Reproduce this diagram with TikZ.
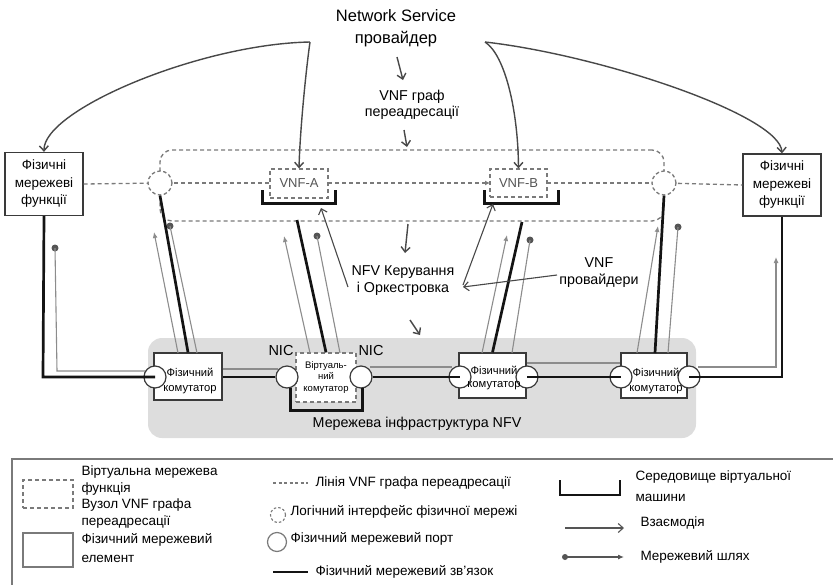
\documentclass[tikz,border=0pt]{standalone}
\usepackage{fontspec}
\setmainfont{Liberation Sans}
\usetikzlibrary{arrows.meta}

\definecolor{dashgrey}{HTML}{7A7A7A}
\definecolor{pathgrey}{HTML}{8C8C8C}
\definecolor{infrafill}{HTML}{DDDDDD}
\definecolor{edgegrey}{HTML}{3A3A3A}
\definecolor{ctrlgrey}{HTML}{484848}
\definecolor{textgrey}{HTML}{555555}

\tikzset{
  physbox/.style={draw=edgegrey, line width=1.3pt, fill=white, align=center, inner sep=0pt},
  vnfbox/.style={draw=dashgrey, dash pattern=on 4pt off 3pt, line width=1.3pt, fill=white,
                 inner sep=0pt, text=textgrey, font=\fontsize{13}{15}\selectfont},
  lif/.style={circle, draw=dashgrey, dash pattern=on 3.5pt off 2.5pt, line width=1.3pt,
              fill=white, minimum size=24pt, inner sep=0pt},
  pport/.style={circle, draw=edgegrey, line width=1.2pt, fill=white, minimum size=22pt, inner sep=0pt},
  fglink/.style={draw=dashgrey, line width=1.3pt, dash pattern=on 4pt off 3pt},
  plink/.style={draw=black!92, line width=2.7pt},
  vmenv/.style={draw=black!92, line width=3pt},
  npath/.style={draw=pathgrey, line width=1.1pt},
  interact/.style={draw=pathgrey, line width=1.1pt, -{Latex[length=6pt,width=5pt]}},
  pdot/.style={circle, fill=textgrey, minimum size=7pt, inner sep=0pt},
  ctrl/.style={draw=ctrlgrey, line width=1.4pt, -{Straight Barb[length=5pt,width=9pt]}},
  lbl/.style={align=center, font=\fontsize{14.3}{17}\selectfont},
  swtext/.style={align=center, inner sep=0pt, font=\fontsize{11.2}{14.5}\selectfont},
  leg/.style={align=left, anchor=west, font=\fontsize{13.5}{16.7}\selectfont},
}

\begin{document}
\begin{tikzpicture}[x=1pt,y=-1pt]
\useasboundingbox (0,0) rectangle (833,584);

% ---------- NFV infrastructure area ----------
\node[fill=infrafill, rounded corners=14pt, minimum width=548pt, minimum height=100pt, inner sep=0pt]
  (infra) at (422,388) {};

% ---------- forwarding graph region and graph links ----------
\node[fglink, rounded corners=12pt, minimum width=504pt, minimum height=71pt, inner sep=0pt]
  (fgarea) at (412,185.5) {};

% physical network functions, logical interfaces and VNF nodes
\node[physbox, minimum width=78pt, minimum height=63pt, font=\fontsize{13.5}{17.5}\selectfont]
  (pfL) at (44,184) {Фізичні\\мережеві\\функції};
\node[physbox, minimum width=78pt, minimum height=62pt, font=\fontsize{13.5}{17.5}\selectfont]
  (pfR) at (782,185) {Фізичні\\мережеві\\функції};

\draw[fglink] (pfL.east) -- (160,183);
\draw[fglink] (160,183) -- (270,183);
\draw[fglink, -{Latex[length=5pt,width=5pt]}] (328,183) -- (490,183);
\draw[fglink] (547,183) -- (664,183);
\draw[fglink] (664,183) -- (pfR.west);

\node[lif] (lciL) at (160,183) {};
\node[lif] (lciR) at (664,183) {};
\node[vnfbox, minimum width=58pt, minimum height=29pt] (vnfA) at (299,183.5) {VNF-A};
\node[vnfbox, minimum width=57pt, minimum height=28pt] (vnfB) at (518.5,183) {VNF-B};

% ---------- switches ----------
\node[physbox, minimum width=68pt, minimum height=47pt] (sw1) at (188,376.5) {};
\node[physbox, draw=dashgrey, dash pattern=on 4pt off 3pt, minimum width=60pt, minimum height=49pt,
      font=\fontsize{9.5}{11.5}\selectfont] (vsw) at (326,377.5) {Віртуаль-\\ний\\комутатор};
\node[physbox, minimum width=67pt, minimum height=45pt] (sw2) at (492.5,375.5) {};
\node[physbox, minimum width=66pt, minimum height=45pt] (sw3) at (654,375.5) {};

% network paths (grey) and interactions
\coordinate (pL1) at (57,371);
\coordinate (pL2) at (146,371);
\node[pdot] (dL0) at (55,248) {};
\draw[npath] (dL0.center) -- (pL1) -- (pL2);
\draw[npath] (sw1.east |- 0,369) -- (278,369);
\draw[npath] (370,367) -- (452,367);
\draw[npath] (sw2.east |- 0,363) -- (sw3.west |- 0,363);
\coordinate (pR1) at (776,367);
\coordinate (pR2) at (776,257);
\draw[interact] (698,367) -- (pR1) -- (pR2);

\coordinate (a1b) at (178,353); \coordinate (a1t) at (154,232);
\coordinate (d1b) at (197,353); \node[pdot] (d1t) at (170,226) {};
\coordinate (a2b) at (310,353); \coordinate (a2t) at (284,236);
\coordinate (d2b) at (340,353); \node[pdot] (d2t) at (317,236) {};
\coordinate (a3b) at (482,353); \coordinate (a3t) at (507,235);
\coordinate (d3b) at (512,353); \node[pdot] (d3t) at (530,240) {};
\coordinate (a4b) at (637,353); \coordinate (a4t) at (658,226);
\coordinate (d4b) at (668,353); \node[pdot] (d4t) at (678,227) {};
\draw[interact] (a1b) -- (a1t);
\draw[npath] (d1b) -- (d1t.center);
\draw[interact] (a2b) -- (a2t);
\draw[npath] (d2b) -- (d2t.center);
\draw[interact] (a3b) -- (a3t);
\draw[npath] (d3b) -- (d3t.center);
\draw[interact] (a4b) -- (a4t);
\draw[npath] (d4b) -- (d4t.center);

% physical links up to the VNF side
\coordinate (vA) at (297,220);
\coordinate (vB) at (522,222);
\draw[plink] (lciL.south) -- (sw1.north -| 188,0);
\draw[plink] (vA) -- (vsw.north);
\draw[plink] (vB) -- (sw2.north);
\draw[plink] (lciR.south) -- (655,353);

% ports and NICs
\node[pport] (p1) at (155,377) {};
\node[pport] (nicL) at (287,377) {};
\node[pport] (nicR) at (361,377) {};
\node[pport] (p2a) at (460,377) {};
\node[pport] (p2b) at (527,377) {};
\node[pport] (p3a) at (621,377) {};
\node[pport] (p3b) at (689,377) {};

\node[font=\fontsize{14.5}{17}\selectfont] (nicLl) at (281,351) {NIC};
\node[font=\fontsize{14.5}{17}\selectfont] (nicRl) at (371,351) {NIC};

% physical links between ports
\coordinate (kL) at (43,377);
\coordinate (kR) at (782,377);
\draw[plink] (pfL.south) -- (kL) -- (p1.center);
\draw[plink] (sw1.east |- 0,377) -- (nicL.west);
\draw[plink] (nicR.east) -- (p2a.center);
\draw[plink] (p2b.center) -- (p3a.center);
\draw[plink] (p3b.center) -- (kR) -- (pfR.south);

% switch captions, printed over the ports
\node[swtext] (sw1t) at (190,381) {Фізичний\\комутатор};
\node[swtext, font=\fontsize{11.2}{13}\selectfont] (sw2t) at (494,378) {Фізичний\\комутатор};
\node[swtext] (sw3t) at (656,381) {Фізичний\\комутатор};

% virtual machine environments
\draw[vmenv] (262,190) -- (262,203) -- (335,203) -- (335,190);
\draw[vmenv] (484,190) -- (484,203) -- (558,203) -- (558,190);
\draw[vmenv] (290,388) -- (290,410) -- (362,410) -- (362,388);

% ---------- labels and orchestration arrows ----------
\node[align=center, font=\fontsize{16.5}{22}\selectfont] (ns) at (396,28) {Network Service\\провайдер};
\node[lbl, font=\fontsize{14.3}{16}\selectfont] (fg) at (412,105) {VNF граф\\переадресації};
\node[lbl] (nfv) at (403,281) {NFV Керування\\і Оркестровка};
\node[lbl] (vprov) at (599,273) {VNF\\провайдери};
\node[lbl] (infralbl) at (417,424) {Мережева інфраструктура NFV};

\coordinate (nsL) at (310,42);
\coordinate (nsR) at (485,42);
\draw[ctrl] (nsL) .. controls (200,44) and (43,110) .. (pfL.north);
\draw[ctrl] (nsL) .. controls (306,70) and (300,130) .. (vnfA.north);
\draw[ctrl] (nsR) .. controls (505,55) and (518,110) .. (vnfB.north);
\draw[ctrl] (nsR) .. controls (600,55) and (780,115) .. (pfR.north);

\coordinate (s1a) at (397,57);  \coordinate (s1b) at (403,80);
\coordinate (s2a) at (404,130); \coordinate (s2b) at (407,147);
\coordinate (s3a) at (408,224); \coordinate (s3b) at (405,253);
\coordinate (s4a) at (410,320); \coordinate (s4b) at (420,335);
\draw[ctrl] (s1a) -- (s1b);
\draw[ctrl] (s2a) -- (s2b);
\draw[ctrl] (s3a) -- (s3b);
\draw[ctrl] (s4a) -- (s4b);

\coordinate (nA) at (348,287); \coordinate (tA) at (321,208);
\coordinate (nB) at (463,285); \coordinate (tB) at (493,204);
\coordinate (vp) at (557,275); \coordinate (tN) at (463,287);
\draw[ctrl, line width=1.1pt] (nA) -- (tA);
\draw[ctrl, line width=1.1pt] (nB) -- (tB);
\draw[ctrl, line width=1.1pt] (vp) -- (tN);

% ---------- legend ----------
\draw[draw=dashgrey, line width=1.5pt] (12,600) -- (12,459) -- (845,459);

\node[vnfbox, minimum width=50pt, minimum height=28pt] (lgV) at (48,494) {};
\node[leg] (lgVt) at (78,497) {Віртуальна мережева\\функція\\Вузол VNF графа\\переадресації};
\node[physbox, draw=dashgrey, minimum width=50pt, minimum height=34pt] (lgP) at (48,550) {};
\node[leg, font=\fontsize{13.5}{19}\selectfont] (lgPt) at (78,548.5) {Фізичний мережевий\\елемент};

\coordinate (lgL1) at (273,483); \coordinate (lgL2) at (308,483);
\draw[fglink, line width=1.1pt, dash pattern=on 3pt off 2.5pt] (lgL1) -- (lgL2);
\node[leg] (lgLt) at (312,483) {Лінія VNF графа переадресації};
\node[lif, minimum size=15pt, line width=1.1pt, dash pattern=on 2.5pt off 2pt] (lgC) at (278,515) {};
\node[leg] (lgCt) at (287,512) {Логічний інтерфейс фізичної мережі};
\node[pport, minimum size=19pt, draw=dashgrey] (lgO) at (277,542) {};
\node[leg] (lgOt) at (287,539) {Фізичний мережевий порт};
\coordinate (lgK1) at (273,572); \coordinate (lgK2) at (308,572);
\draw[plink, line width=2.2pt] (lgK1) -- (lgK2);
\node[leg] (lgKt) at (312,572) {Фізичний мережевий зв’язок};

\draw[vmenv, line width=2.6pt] (560,480) -- (560,495) -- (620,495) -- (620,480);
\node[leg, font=\fontsize{13.5}{21}\selectfont] (lgMt) at (632,486) {Середовище віртуальної\\машини};
\coordinate (lgI1) at (565,528); \coordinate (lgI2) at (624,528);
\draw[ctrl, draw=textgrey, line width=1.1pt] (lgI1) -- (lgI2);
\node[leg] (lgIt) at (637,523) {Взаємодія};
\node[pdot, minimum size=6pt] (lgN1) at (565,557) {};
\coordinate (lgN2) at (624,557);
\draw[draw=textgrey, line width=1.1pt, -{Latex[length=6pt,width=5pt]}] (lgN1.center) -- (lgN2);
\node[leg] (lgNt) at (637,557) {Мережевий шлях};
\end{tikzpicture}
\end{document}
